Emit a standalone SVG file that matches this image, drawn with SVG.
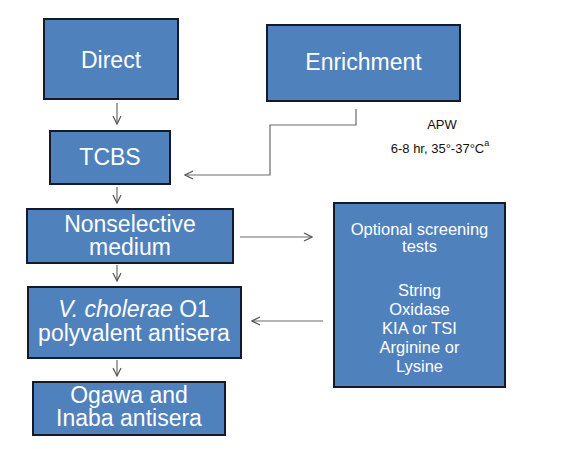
<svg xmlns="http://www.w3.org/2000/svg" width="564" height="449" viewBox="0 0 564 449">
<style>
.box{fill:#4f81bd;stroke:#141a2a;stroke-width:2}
.t{font-family:"Liberation Sans",Arial,sans-serif;fill:#ffffff;text-anchor:middle;font-size:23px}
.s{font-family:"Liberation Sans",Arial,sans-serif;fill:#ffffff;text-anchor:middle;font-size:16.5px}
.k{font-family:"Liberation Sans",Arial,sans-serif;fill:#111111;text-anchor:middle;font-size:13px}
.c{fill:none;stroke:#6b6b6b;stroke-width:1.2}
</style>
<defs>
<marker id="ah" viewBox="0 0 10 10" refX="9" refY="5" markerWidth="10" markerHeight="10" markerUnits="userSpaceOnUse" orient="auto">
<polyline points="1,1 9,5 1,9" fill="none" stroke="#555555" stroke-width="1.2"/>
</marker>
</defs>
<rect width="564" height="449" fill="#ffffff"/>
<g id="connectors">
<path class="c" d="M117,103 V124" marker-end="url(#ah)"/>
<path class="c" d="M117,187 V203" marker-end="url(#ah)"/>
<path class="c" d="M117,265 V281" marker-end="url(#ah)"/>
<path class="c" d="M117,360 V376" marker-end="url(#ah)"/>
<path class="c" d="M356,109 V125 H270 V175 H185" marker-end="url(#ah)"/>
<path class="c" d="M240,237 H312" marker-end="url(#ah)"/>
<path class="c" d="M323,321 H252" marker-end="url(#ah)"/>
</g>
<g id="direct">
<rect class="box" x="44" y="19" width="134" height="80"/>
<text class="t" x="111" y="68">Direct</text>
</g>
<g id="enrichment">
<rect class="box" x="267" y="25" width="193" height="76"/>
<text class="t" x="363.5" y="70">Enrichment</text>
</g>
<g id="apw-label">
<text class="k" x="442" y="129">APW</text>
<text class="k" x="440" y="153">6-8 hr, 35°-37°C<tspan font-size="9" dy="-7">a</tspan></text>
</g>
<g id="tcbs">
<rect class="box" x="50" y="131" width="120" height="53"/>
<text class="t" x="110" y="165">TCBS</text>
</g>
<g id="nonselective">
<rect class="box" x="27" y="209" width="206" height="54"/>
<text class="t" x="130" y="232">Nonselective</text>
<text class="t" x="130" y="255">medium</text>
</g>
<g id="vcholerae">
<rect class="box" x="28" y="287" width="213" height="71"/>
<text class="t" x="134" y="317"><tspan font-style="italic">V. cholerae</tspan> O1</text>
<text class="t" x="134" y="341">polyvalent antisera</text>
</g>
<g id="ogawa">
<rect class="box" x="33" y="382" width="192" height="53"/>
<text class="t" x="129" y="403">Ogawa and</text>
<text class="t" x="129" y="426">Inaba antisera</text>
</g>
<g id="optional">
<rect class="box" x="334" y="203" width="171" height="184"/>
<text class="s" x="419.5" y="235">Optional screening</text>
<text class="s" x="419.5" y="252">tests</text>
<text class="s" x="419.5" y="296">String</text>
<text class="s" x="419.5" y="315">Oxidase</text>
<text class="s" x="419.5" y="334">KIA or TSI</text>
<text class="s" x="419.5" y="353">Arginine or</text>
<text class="s" x="419.5" y="372">Lysine</text>
</g>
</svg>
